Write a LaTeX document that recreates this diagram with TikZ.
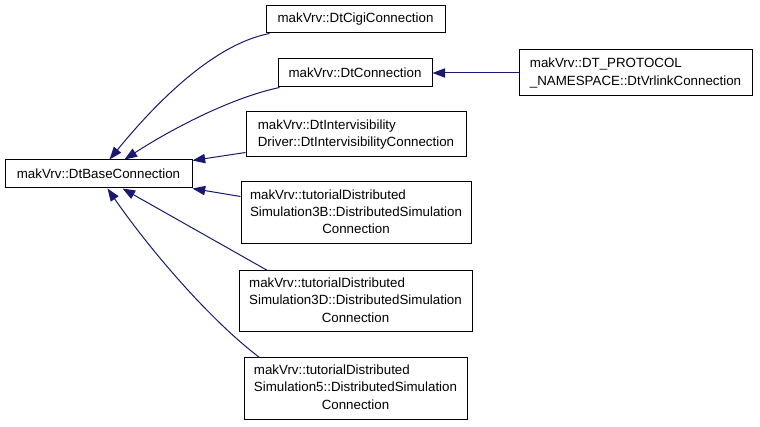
\documentclass[tikz,border=0pt]{standalone}
\usepackage{fontspec}
\setmainfont{Liberation Sans}
\usetikzlibrary{arrows.meta,calc}
\definecolor{edgecol}{RGB}{25,25,112}
\newcommand{\lft}[1]{\begin{tabular}{@{}l@{}}#1\end{tabular}}
\begin{document}
\begin{tikzpicture}[x=0.75pt,y=-0.75pt,
  box/.style={draw=black,line width=0.75pt,fill=white,inner sep=0pt,
    font=\fontsize{10}{13.1}\selectfont},
  inh/.style={draw=edgecol,line width=0.75pt,{Triangle[length=9.5pt,width=7pt]}-}]
\useasboundingbox[fill=white] (0,0) rectangle (760,427);
\node[box,minimum width=140.25pt,minimum height=21pt] (base) at (98.5,174) {makVrv::DtBaseConnection};
\node[box,minimum width=134.25pt,minimum height=20.25pt] (cigi) at (355.5,19.5) {makVrv::DtCigiConnection};
\node[box,minimum width=115.5pt,minimum height=21pt] (conn) at (355,73) {makVrv::DtConnection};
\node[box,minimum width=174.75pt,minimum height=34.5pt] (vrlink) at (635.5,73) {\lft{makVrv::DT\_PROTOCOL\\\_NAMESPACE::DtVrlinkConnection}};
\node[box,minimum width=165pt,minimum height=33.75pt] (inter) at (356,134.5) {\lft{makVrv::DtIntervisibility\\Driver::DtIntervisibilityConnection}};
\node[box,minimum width=172.5pt,minimum height=46.5pt] (s3b) at (356,213) {\lft{makVrv::tutorialDistributed\\Simulation3B::DistributedSimulation\\\multicolumn{1}{@{}c@{}}{Connection}}};
\node[box,minimum width=174.75pt,minimum height=45.75pt] (s3d) at (355.5,301.5) {\lft{makVrv::tutorialDistributed\\Simulation3D::DistributedSimulation\\\multicolumn{1}{@{}c@{}}{Connection}}};
\node[box,minimum width=167.25pt,minimum height=45.75pt] (s5) at (355.5,388.5) {\lft{makVrv::tutorialDistributed\\Simulation5::DistributedSimulation\\\multicolumn{1}{@{}c@{}}{Connection}}};
% connectors
\draw[inh] ($(base.north west)+(105,0)$) .. controls (150,110) and (210,45) .. ($(cigi.south west)+(4,0)$);
\draw[inh] ($(base.north west)+(120,0)$) .. controls (170,130) and (230,98) .. ($(conn.south west)+(2,0)$);
\draw[inh] ($(base.north east)+(0,1)$) -- ($(inter.south west)+(0,-5)$);
\draw[inh] (base.south east) -- ($(s3b.north west)+(0,15)$);
\draw[inh] ($(base.south west)+(118,0)$) -- ($(s3d.north west)+(29,0)$);
\draw[inh] ($(base.south west)+(103,0)$) .. controls (150,250) and (210,320) .. ($(s5.north west)+(16,0)$);
\draw[inh] (conn.east) -- (vrlink.west);
\end{tikzpicture}
\end{document}
